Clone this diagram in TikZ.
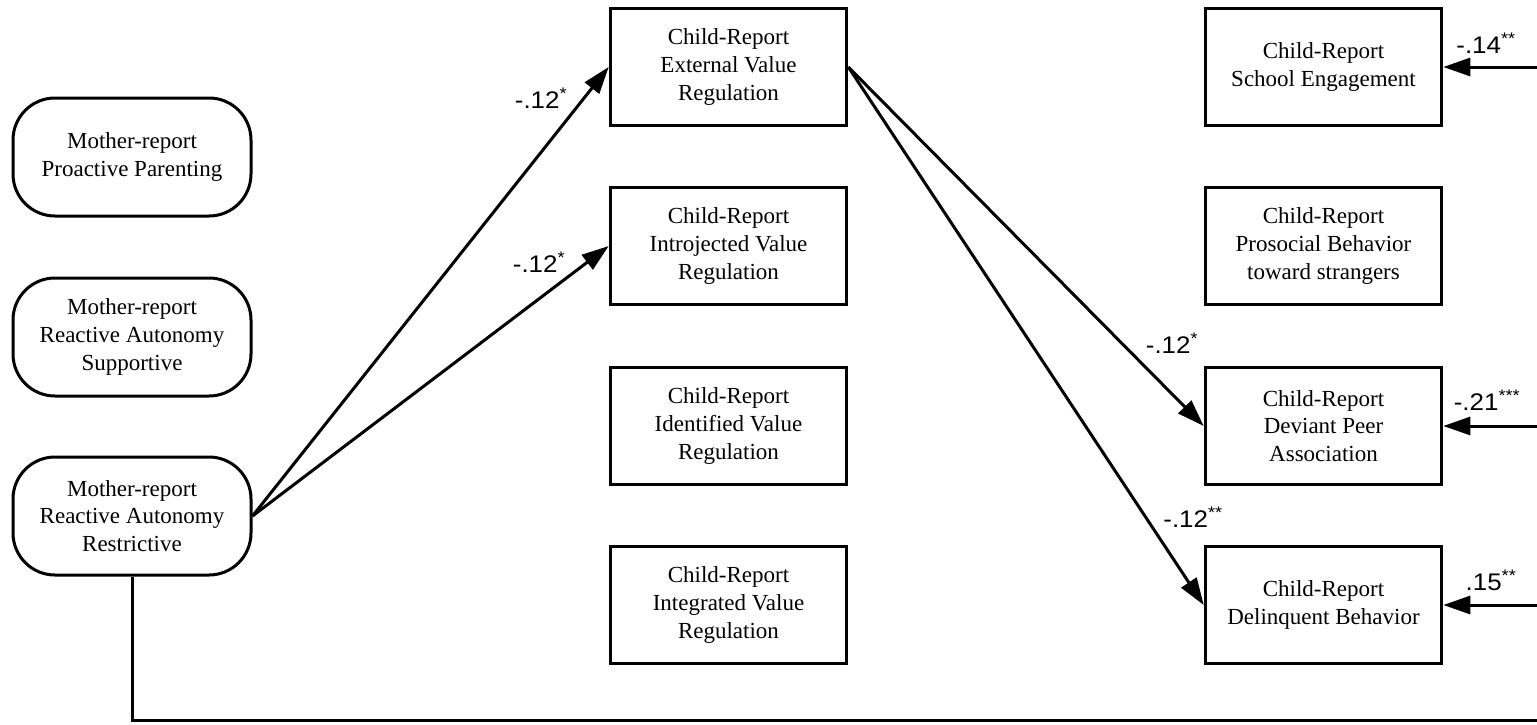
\documentclass[tikz,border=0pt]{standalone}
\usepackage{fontspec}
\setmainfont{Liberation Serif}
\newfontfamily\labfont[FakeStretch=1.08]{Liberation Sans}
\usetikzlibrary{arrows.meta}
\tikzset{
  box/.style={draw, line width=3.6pt, minimum width=236pt, minimum height=117pt,
    align=center, font=\fontsize{23}{27.6}\selectfont, inner sep=0pt},
  rbox/.style={draw, line width=3pt, rounded corners=42pt, minimum width=238pt, minimum height=118pt,
    align=center, font=\fontsize{23}{27.6}\selectfont, inner sep=0pt},
  arr/.style={line width=3pt, -{Triangle[length=27pt,width=18pt]}},
  conn/.style={line width=3pt},
  lab/.style={font=\labfont\fontsize{24}{28}\selectfont, inner sep=0pt}
}
\begin{document}
\begin{tikzpicture}[x=1pt,y=-1pt]
\useasboundingbox (0,0) rectangle (1537,724);
\clip (0,0) rectangle (1537,724);
\fill[white] (0,0) rectangle (1537,724);
% left column
\node[rbox] (p1) at (132,157) {Mother-report\\Proactive Parenting};
\node[rbox] (p2) at (132,337) {Mother-report\\Reactive Autonomy\\Supportive};
\node[rbox] (p3) at (132,516) {Mother-report\\Reactive Autonomy\\Restrictive};
% middle column
\node[box] (c1) at (728.5,67) {Child-Report\\External Value\\Regulation};
\node[box] (c2) at (728.5,246) {Child-Report\\Introjected Value\\Regulation};
\node[box] (c3) at (728.5,426) {Child-Report\\Identified Value\\Regulation};
\node[box] (c4) at (728.5,605) {Child-Report\\Integrated Value\\Regulation};
% right column
\node[box] (o1) at (1323.5,67) {Child-Report\\School Engagement};
\node[box] (o2) at (1323.5,246) {Child-Report\\Prosocial Behavior\\toward strangers};
\node[box] (o3) at (1323.5,426) {Child-Report\\Deviant Peer\\Association};
\node[box] (o4) at (1323.5,605) {Child-Report\\Delinquent Behavior};
% connectors
\draw[arr] (p3.east) -- (c1.west);
\draw[arr] (p3.east) -- (c2.west);
\draw[arr] (c1.east) -- (o3.west);
\draw[arr] (c1.east) -- (o4.west);
\coordinate (b1) at (132,720);
\coordinate (b2) at (1545,720);
\coordinate (r1) at (1545,67);
\coordinate (r3) at (1545,426);
\coordinate (r4) at (1545,605);
\draw[conn] (p3.south) -- (b1) -- (b2);
\draw[arr] (r1) -- (o1.east);
\draw[arr] (r3) -- (o3.east);
\draw[arr] (r4) -- (o4.east);
% labels
\node[lab] (l1) at (541,98) {-.12\textsuperscript{*}};
\node[lab] (l2) at (539,262) {-.12\textsuperscript{*}};
\node[lab] (l3) at (1172,343) {-.12\textsuperscript{*}};
\node[lab] (l4) at (1193,517) {-.12\textsuperscript{**}};
\node[lab] (l5) at (1486,43) {-.14\textsuperscript{**}};
\node[lab] (l6) at (1487,400) {-.21\textsuperscript{***}};
\node[lab] (l7) at (1491,580) {.15\textsuperscript{**}};
\end{tikzpicture}
\end{document}
